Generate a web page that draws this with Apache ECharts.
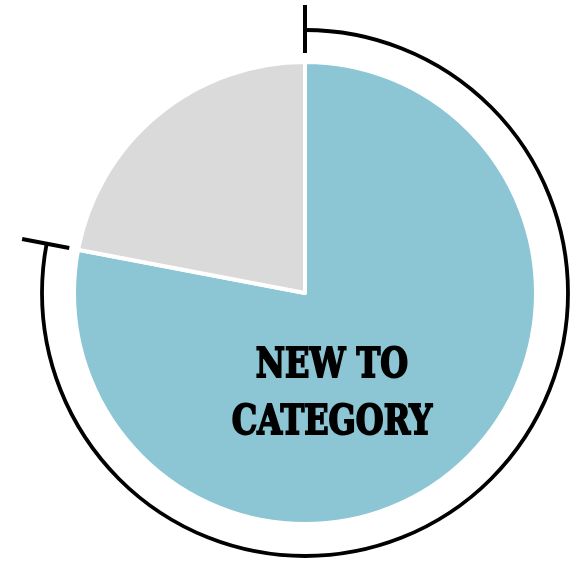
<!DOCTYPE html>
<html>
<head>
<meta charset="utf-8">
<script src="https://cdn.jsdelivr.net/npm/echarts@6/dist/echarts.min.js"></script>
<style>
  html, body { margin: 0; padding: 0; background: #ffffff; }
  #chart { width: 576px; height: 563px; }
</style>
</head>
<body>
<div id="chart"></div>
<script>
// Audience split: shoppers new to the category vs. everyone else (percent)
const categories = ['NEW TO CATEGORY', 'OTHER'];
const shares = [78, 22];
const sliceColors = ['#8cc6d5', '#dadada'];

const CX = 305, CY = 293;
const PIE_R = 231;
const ARC_R = 263;
const TICK_IN = 240, TICK_OUT = 288;

const total = shares.reduce((a, b) => a + b, 0);

const chart = echarts.init(document.getElementById('chart'), null, { renderer: 'canvas' });

// Bracket arc that wraps the highlighted slice, with end ticks
function renderBracket(params, api) {
  const start = -Math.PI / 2;
  const end = start + 2 * Math.PI * (api.value(0) / total);
  const tick = (a) => ({
    type: 'line',
    shape: {
      x1: CX + TICK_IN * Math.cos(a), y1: CY + TICK_IN * Math.sin(a),
      x2: CX + TICK_OUT * Math.cos(a), y2: CY + TICK_OUT * Math.sin(a)
    },
    style: { stroke: '#000', lineWidth: 4, lineCap: 'butt' }
  });
  return {
    type: 'group',
    children: [
      {
        type: 'arc',
        shape: { cx: CX, cy: CY, r: ARC_R, startAngle: start, endAngle: end, clockwise: true },
        style: { stroke: '#000', lineWidth: 3.8, fill: null }
      },
      tick(start),
      tick(end)
    ]
  };
}

chart.setOption({
  animation: false,
  series: [
    {
      type: 'pie',
      center: [CX, CY],
      radius: PIE_R,
      startAngle: 90,
      clockwise: true,
      silent: true,
      label: { show: false },
      labelLine: { show: false },
      itemStyle: { borderColor: '#ffffff', borderWidth: 4 },
      data: categories.map((name, i) => ({
        name, value: shares[i], itemStyle: { color: sliceColors[i] }
      }))
    },
    {
      type: 'custom',
      coordinateSystem: 'none',
      silent: true,
      renderItem: renderBracket,
      data: [[shares[0]]]
    }
  ],
  graphic: {
    elements: [
      {
        type: 'text',
        x: 332,
        y: 395,
        scaleX: 0.78,
        z: 100,
        silent: true,
        style: {
          text: categories[0].replace(' CATEGORY', '\nCATEGORY'),
          fontFamily: 'DejaVu Serif',
          fontWeight: 'bold',
          fontSize: 41,
          fill: '#000000',
          stroke: '#000000',
          lineWidth: 2,
          align: 'center',
          verticalAlign: 'middle',
          lineHeight: 57
        }
      }
    ]
  }
});
</script>
</body>
</html>
